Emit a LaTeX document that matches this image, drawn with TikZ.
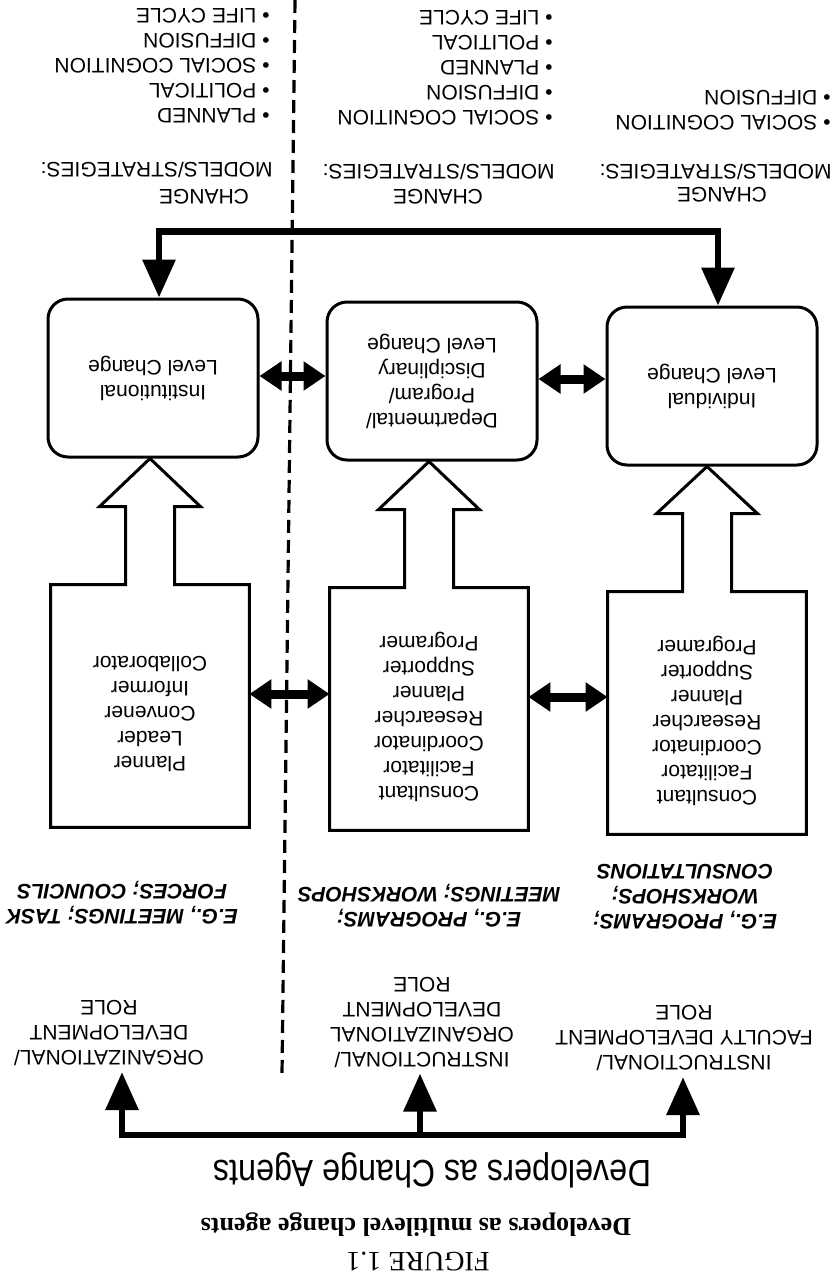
\documentclass[tikz,border=0pt]{standalone}
\usepackage{fontspec}
\usepackage{graphicx}
\setmainfont{Liberation Sans}
\newfontfamily\captionfont{Liberation Serif}
\usetikzlibrary{arrows.meta}

\tikzset{
  every node/.style={rotate=180, inner sep=0pt, font=\fontsize{10.5}{12.5}\selectfont},
  changebox/.style={draw, line width=1.5pt, rounded corners=10pt, minimum width=105pt, minimum height=79pt, align=center},
  rolebox/.style={minimum width=99pt, minimum height=121pt},
  roletext/.style={align=center},
  roleline/.style={line width=1.5pt, line join=miter},
  twoway/.style={line width=4.5pt, {Triangle[length=11pt,width=14pt]}-{Triangle[length=11pt,width=14pt]}},
  busarrow/.style={line width=3.2pt, line join=miter, -{Triangle[length=19pt,width=16pt]}},
  busarrows/.style={line width=3.2pt, line join=miter, {Triangle[length=19pt,width=16pt]}-{Triangle[length=19pt,width=16pt]}},
  rolelabel/.style={align=center, inner sep=3pt},
  egtext/.style={align=center, font=\fontsize{10.5}{12.5}\selectfont\bfseries\itshape},
  modellist/.style={align=left, anchor=west},
  divider/.style={line width=1.6pt, dash pattern=on 6.5pt off 3.5pt}
}

\begin{document}
\begin{tikzpicture}[x=0.5pt,y=-0.5pt]
\useasboundingbox (0,0) rectangle (835,1280);

% change models / strategies
\node (chgwordA) at (204,197) {CHANGE};
\node[modellist] (headA) at (273,170) {MODELS/STRATEGIES:};
\node[modellist] (listA) at (270,66) {\textbullet~PLANNED\\\textbullet~POLITICAL\\\textbullet~SOCIAL COGNITION\\\textbullet~DIFFUSION\\\textbullet~LIFE CYCLE};

\node (chgwordB) at (438,197) {CHANGE};
\node[modellist] (headB) at (555,172) {MODELS/STRATEGIES:};
\node[modellist] (listB) at (553,68) {\textbullet~SOCIAL COGNITION\\\textbullet~DIFFUSION\\\textbullet~PLANNED\\\textbullet~POLITICAL\\\textbullet~LIFE CYCLE};

\node (chgwordC) at (722,195) {CHANGE};
\node[modellist] (headC) at (832,172) {MODELS/STRATEGIES:};
\node[modellist] (listC) at (831,110) {\textbullet~SOCIAL COGNITION\\\textbullet~DIFFUSION};

% levels of change (nodes turned upside down: south is on top)
\node[changebox] (chgA) at (153,378) {Institutional\\Level Change};
\node[changebox] (chgB) at (432,381) {Departmental/\\Program/\\Disciplinary\\Level Change};
\node[changebox] (chgC) at (712,386) {Individual\\Level Change};

\draw[busarrows] ([xshift=3pt]chgA.south) -- ++(0pt,33pt) -| ([xshift=3pt]chgC.south);
\draw[twoway] ([yshift=1pt]chgA.west) -- ([yshift=1pt]chgA.west -| chgB.east);
\draw[twoway] ([yshift=1pt]chgB.west) -- ([yshift=1pt]chgB.west -| chgC.east);

% roles
\node[rolebox] (roleA) at (150,706) {};
\node[rolebox] (roleB) at (429,709) {};
\node[rolebox] (roleC) at (707,713) {};
\node[roletext] (jobsA) at ([yshift=-4pt]roleA.center) {Planner\\Leader\\Convener\\Informer\\Collaborator};
\node[roletext] (jobsB) at ([yshift=-4pt]roleB.center) {Consultant\\Facilitator\\Coordinator\\Researcher\\Planner\\Supporter\\Programer};
\node[roletext] (jobsC) at ([yshift=-4pt]roleC.center) {Consultant\\Facilitator\\Coordinator\\Researcher\\Planner\\Supporter\\Programer};

\draw[roleline] (roleA.north east) -- (roleA.south east) -- ([xshift=-12.25pt]roleA.south) -- ++(0pt,39pt) -- ++(-13pt,0pt) -- (roleA.south |- chgA.north) -- ([xshift=25.25pt,yshift=39pt]roleA.south) -- ++(-13pt,0pt) -- ([xshift=12.25pt]roleA.south) -- (roleA.south west) -- (roleA.north west) -- cycle;
\draw[roleline] (roleB.north east) -- (roleB.south east) -- ([xshift=-12.25pt]roleB.south) -- ++(0pt,39pt) -- ++(-13pt,0pt) -- (roleB.south |- chgB.north) -- ([xshift=25.25pt,yshift=39pt]roleB.south) -- ++(-13pt,0pt) -- ([xshift=12.25pt]roleB.south) -- (roleB.south west) -- (roleB.north west) -- cycle;
\draw[roleline] (roleC.north east) -- (roleC.south east) -- ([xshift=-12.25pt]roleC.south) -- ++(0pt,39pt) -- ++(-13pt,0pt) -- (roleC.south |- chgC.north) -- ([xshift=25.25pt,yshift=39pt]roleC.south) -- ++(-13pt,0pt) -- ([xshift=12.25pt]roleC.south) -- (roleC.south west) -- (roleC.north west) -- cycle;

\draw[twoway] ([yshift=6pt]roleA.west) -- ([yshift=6pt]roleA.west -| roleB.east);
\draw[twoway] ([yshift=6pt]roleB.west) -- ([yshift=6pt]roleB.west -| roleC.east);

% examples
\node[egtext] (egA) at (122,903) {E.G., MEETINGS; TASK\\FORCES; COUNCILS};
\node[egtext] (egB) at (429,906) {E.G., PROGRAMS;\\MEETINGS; WORKSHOPS};
\node[egtext] (egC) at (685,897) {E.G., PROGRAMS;\\WORKSHOPS;\\CONSULTATIONS};

% developer roles
\node[rolelabel] (labA) at (109,1033) {ORGANIZATIONAL/\\DEVELOPMENT\\ROLE};
\node[rolelabel] (labB) at (422,1022) {INSTRUCTIONAL/\\ORGANIZATIONAL\\DEVELOPMENT\\ROLE};
\node[rolelabel] (labC) at (684,1038) {INSTRUCTIONAL/\\FACULTY DEVELOPMENT\\ROLE};

\coordinate (busA) at (122,1135);
\coordinate (busB) at (420,1135);
\coordinate (busC) at (683,1135);
\draw[busarrows] (busA |- labA.north) -- (busA) -- (busC) -- (busC |- labC.north);
\draw[busarrow] (busB) -- (busB |- labB.north);

\node[font=\fontsize{19}{23}\selectfont] (agents) at (432,1170) {\scalebox{0.85}[1]{Developers as Change Agents}};

% caption
\node[font=\captionfont\fontsize{13}{15}\selectfont\bfseries] (capline) at (416,1225) {Developers as multilevel change agents};
\node[font=\captionfont\fontsize{14}{16}\selectfont] (capnum) at (418,1262) {FIGURE 1.1};

\draw[divider] (295,0) -- (282,1075);

\end{tikzpicture}
\end{document}
